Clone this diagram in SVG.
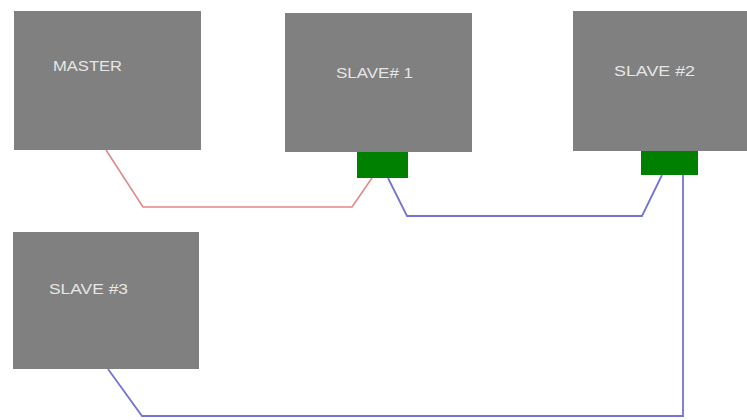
<svg xmlns="http://www.w3.org/2000/svg" width="747" height="420" viewBox="0 0 747 420">
<style>
.box{fill:#808080;}
.port{fill:#008000;}
.lbl{font-family:"Liberation Sans",Arial,sans-serif;font-size:15px;fill:#e6e6e6;}
.red{fill:none;stroke:#e08888;stroke-width:1.6;}
.blue{fill:none;stroke:#7474d0;stroke-width:1.8;}
</style>
<rect width="747" height="420" fill="#ffffff"/>
<g id="connectors">
<polyline class="red" points="106,150 143,207 352,207 372,178"/>
<polyline class="blue" points="388,178 407,216 642,216 662,175"/>
<polyline class="blue" points="683,175 683,416 142,416 108,369"/>
</g>
<g id="master">
<rect class="box" x="14" y="11" width="187" height="139"/>
<text class="lbl" x="53" y="71" textLength="69" lengthAdjust="spacingAndGlyphs">MASTER</text>
</g>
<g id="slave1">
<rect class="box" x="285" y="13" width="187" height="139"/>
<text class="lbl" x="336" y="78" textLength="77" lengthAdjust="spacingAndGlyphs">SLAVE# 1</text>
<rect class="port" x="357" y="152" width="51" height="26"/>
</g>
<g id="slave2">
<rect class="box" x="573" y="11" width="174" height="140"/>
<text class="lbl" x="614" y="76" textLength="81" lengthAdjust="spacingAndGlyphs">SLAVE #2</text>
<rect class="port" x="641" y="151" width="57" height="24"/>
</g>
<g id="slave3">
<rect class="box" x="13" y="232" width="186" height="137"/>
<text class="lbl" x="49" y="294" textLength="79" lengthAdjust="spacingAndGlyphs">SLAVE #3</text>
</g>
</svg>
